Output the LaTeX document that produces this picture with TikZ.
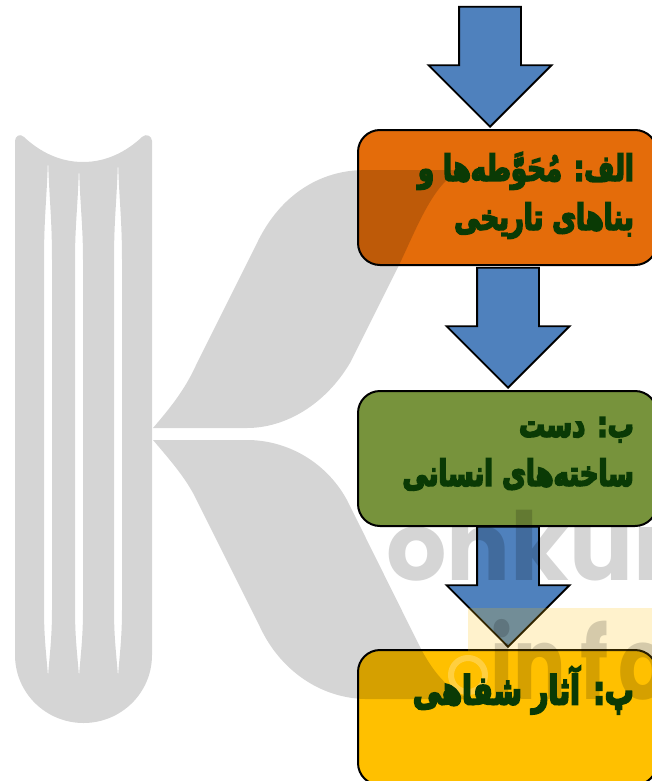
\documentclass[tikz,border=0pt]{standalone}
\usepackage{fontspec}
\usetikzlibrary{shapes.arrows}
\TeXXeTstate=1
\newfontfamily\arabicfont[Script=Arabic,FakeBold=4.5,FakeStretch=0.72]{DejaVu Sans Bold}
\setmainfont{Poppins}
\newfontfamily\infofont[FakeStretch=0.78]{Poppins}
\definecolor{boxorange}{HTML}{E46C0A}
\definecolor{boxgreen}{HTML}{77933C}
\definecolor{boxyellow}{HTML}{FFC000}
\definecolor{arrowblue}{HTML}{4F81BD}
\definecolor{textgreen}{HTML}{0A3A05}
\tikzset{
  infobox/.style={draw=black, line width=2pt, rounded corners=22pt, anchor=north west, minimum width=299pt, minimum height=135pt},
  boxtitle/.style={anchor=north east, align=right, inner sep=0pt, text=textgreen, font=\arabicfont\fontsize{36}{49}\selectfont},
  blockarrow/.style={shape=single arrow, draw=black, fill=arrowblue, line width=1.8pt, anchor=tip, minimum height=120pt, single arrow head extend=30.5pt, inner xsep=0pt, inner ysep=30pt, rotate=-90},
  wmark/.style={fill=black, fill opacity=0.165},
  wmarktext/.style={anchor=base west, inner sep=0pt, text=black, text opacity=0.165, font=\bfseries\fontsize{95}{95}\selectfont}
}
\begin{document}
\begin{tikzpicture}[x=1pt, y=-1pt]
\useasboundingbox (0,0) rectangle (652,781);
\clip (0,0) rectangle (652,781);

\node[blockarrow] (arrowa) at (490,128) {};
\node[infobox, fill=boxorange] (boxa) at (357,129) {};
\node[blockarrow] (arrowb) at (508,389) {};
\node[infobox, fill=boxgreen] (boxb) at (357,390) {};
\node[infobox, fill=boxyellow] (boxc) at (357,649) {};
\node[blockarrow] (arrowc) at (508,648) {};

% watermark
\fill[wmark, even odd rule] (15,141) .. controls (15,136) and (20,133) .. (24,137) .. controls (40,152) and (60,162) .. (83,162) .. controls (106,162) and (126,152) .. (142,137) .. controls (146,133) and (152,136) .. (152,141) -- (152,655) .. controls (152,693) and (121,723) .. (83.5,723) .. controls (46,723) and (15,693) .. (15,655) -- cycle
  \foreach \sx/\sy in {48/157,79/165,118/159} {
    (\sx,\sy) .. controls (\sx+1,\sy+40) and (\sx+4,\sy+60) .. (\sx+4,260) -- (\sx+4,610) .. controls (\sx+4,640) and (\sx+1,660) .. (\sx,677) .. controls (\sx-1,660) and (\sx-4,640) .. (\sx-4,610) -- (\sx-4,260) .. controls (\sx-4,\sy+60) and (\sx-1,\sy+40) .. (\sx,\sy) -- cycle
  };
\fill[wmark] (153,428) .. controls (170,408) and (185,390) .. (197,363) -- (257,243) .. controls (280,195) and (320,170) .. (365,170) -- (462,170) .. controls (435,180) and (418,225) .. (400,263) -- (350,363) .. controls (325,405) and (285,428) .. (247,428) -- cycle;
\fill[wmark] (153,440) .. controls (170,460) and (183,475) .. (193,493) -- (260,627) .. controls (280,670) and (320,698) .. (365,699) -- (470,699) .. controls (447,690) and (432,670) .. (420,647) -- (347,500) .. controls (325,460) and (285,440) .. (247,440) -- cycle;
\fill[boxyellow, fill opacity=0.2] (468,608) rectangle (652,700);
\node[wmarktext] (wordkonkur) at (386,580) {onkur};
\node[wmarktext, font=\infofont\bfseries\fontsize{100}{100}\selectfont] (wordinfo) at (490,699) {in\kern15pt f\kern10pt o};
\draw[white, draw opacity=0.25, line width=6pt] (468,675) circle (17);

\node[boxtitle] (titlea) at (634,152) {\beginR الف: مُحَوَّطه‌ها و\endR\\\beginR بناهای تاریخی\endR};
\node[boxtitle] (titleb) at (634,417) {\beginR ب: دست\endR\\\beginR ساخته‌های انسانی\endR};
\node[boxtitle, font=\arabicfont\fontsize{40}{50}\selectfont] (titlec) at (634,666) {\beginR پ: آثار شفاهی\endR};
\end{tikzpicture}
\end{document}
